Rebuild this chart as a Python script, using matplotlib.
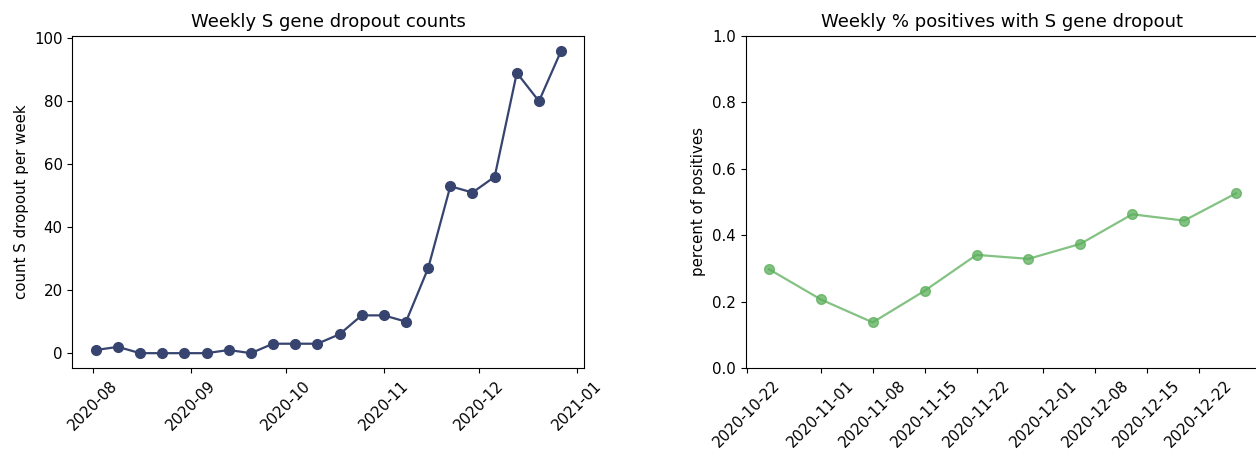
import numpy as np
import pandas as pd
import matplotlib
matplotlib.use("Agg")
import matplotlib.pyplot as plt
import matplotlib.dates as mdates

# Weekly S gene dropout counts
count_weeks = pd.date_range("2020-08-02", periods=22, freq="7D")
count_values = [1, 2, 0, 0, 0, 0, 1, 0, 3, 3, 3, 6, 12, 12, 10, 27, 53, 51, 56, 89, 80, 96]

# Weekly share of positives with S gene dropout
pct_weeks = pd.date_range("2020-10-25", periods=10, freq="7D")
pct_values = [0.298, 0.207, 0.138, 0.233, 0.341, 0.329, 0.374, 0.463, 0.444, 0.526]

plt.rcParams["font.size"] = 10.8
plt.rcParams["axes.titlesize"] = 13

fig = plt.figure(figsize=(12.56, 4.51), dpi=100)

# Left panel
ax1 = fig.add_axes([0.0577, 0.1834, 0.4076, 0.7375])
ax1.plot(count_weeks, count_values, color="#36446f", marker="o", markersize=7, linewidth=1.6)
ax1.set_title("Weekly S gene dropout counts")
ax1.set_ylabel("count S dropout per week")
ax1.xaxis.set_major_locator(mdates.MonthLocator())
ax1.xaxis.set_major_formatter(mdates.DateFormatter("%Y-%m"))
plt.setp(ax1.get_xticklabels(), rotation=45)

# Right panel
ax2 = fig.add_axes([0.5936, 0.1834, 0.4091, 0.7375])
ax2.plot(pct_weeks, pct_values, color="#5aae5a", marker="o", markersize=7, linewidth=1.6, alpha=0.75)
ax2.set_title("Weekly % positives with S gene dropout")
ax2.set_ylabel("percent of positives")
ax2.set_ylim(0, 1)
ax2.xaxis.set_major_locator(mdates.DayLocator(bymonthday=[1, 8, 15, 22]))
ax2.xaxis.set_major_formatter(mdates.DateFormatter("%Y-%m-%d"))
plt.setp(ax2.get_xticklabels(), rotation=45)

fig.savefig("out.png", dpi=100)
